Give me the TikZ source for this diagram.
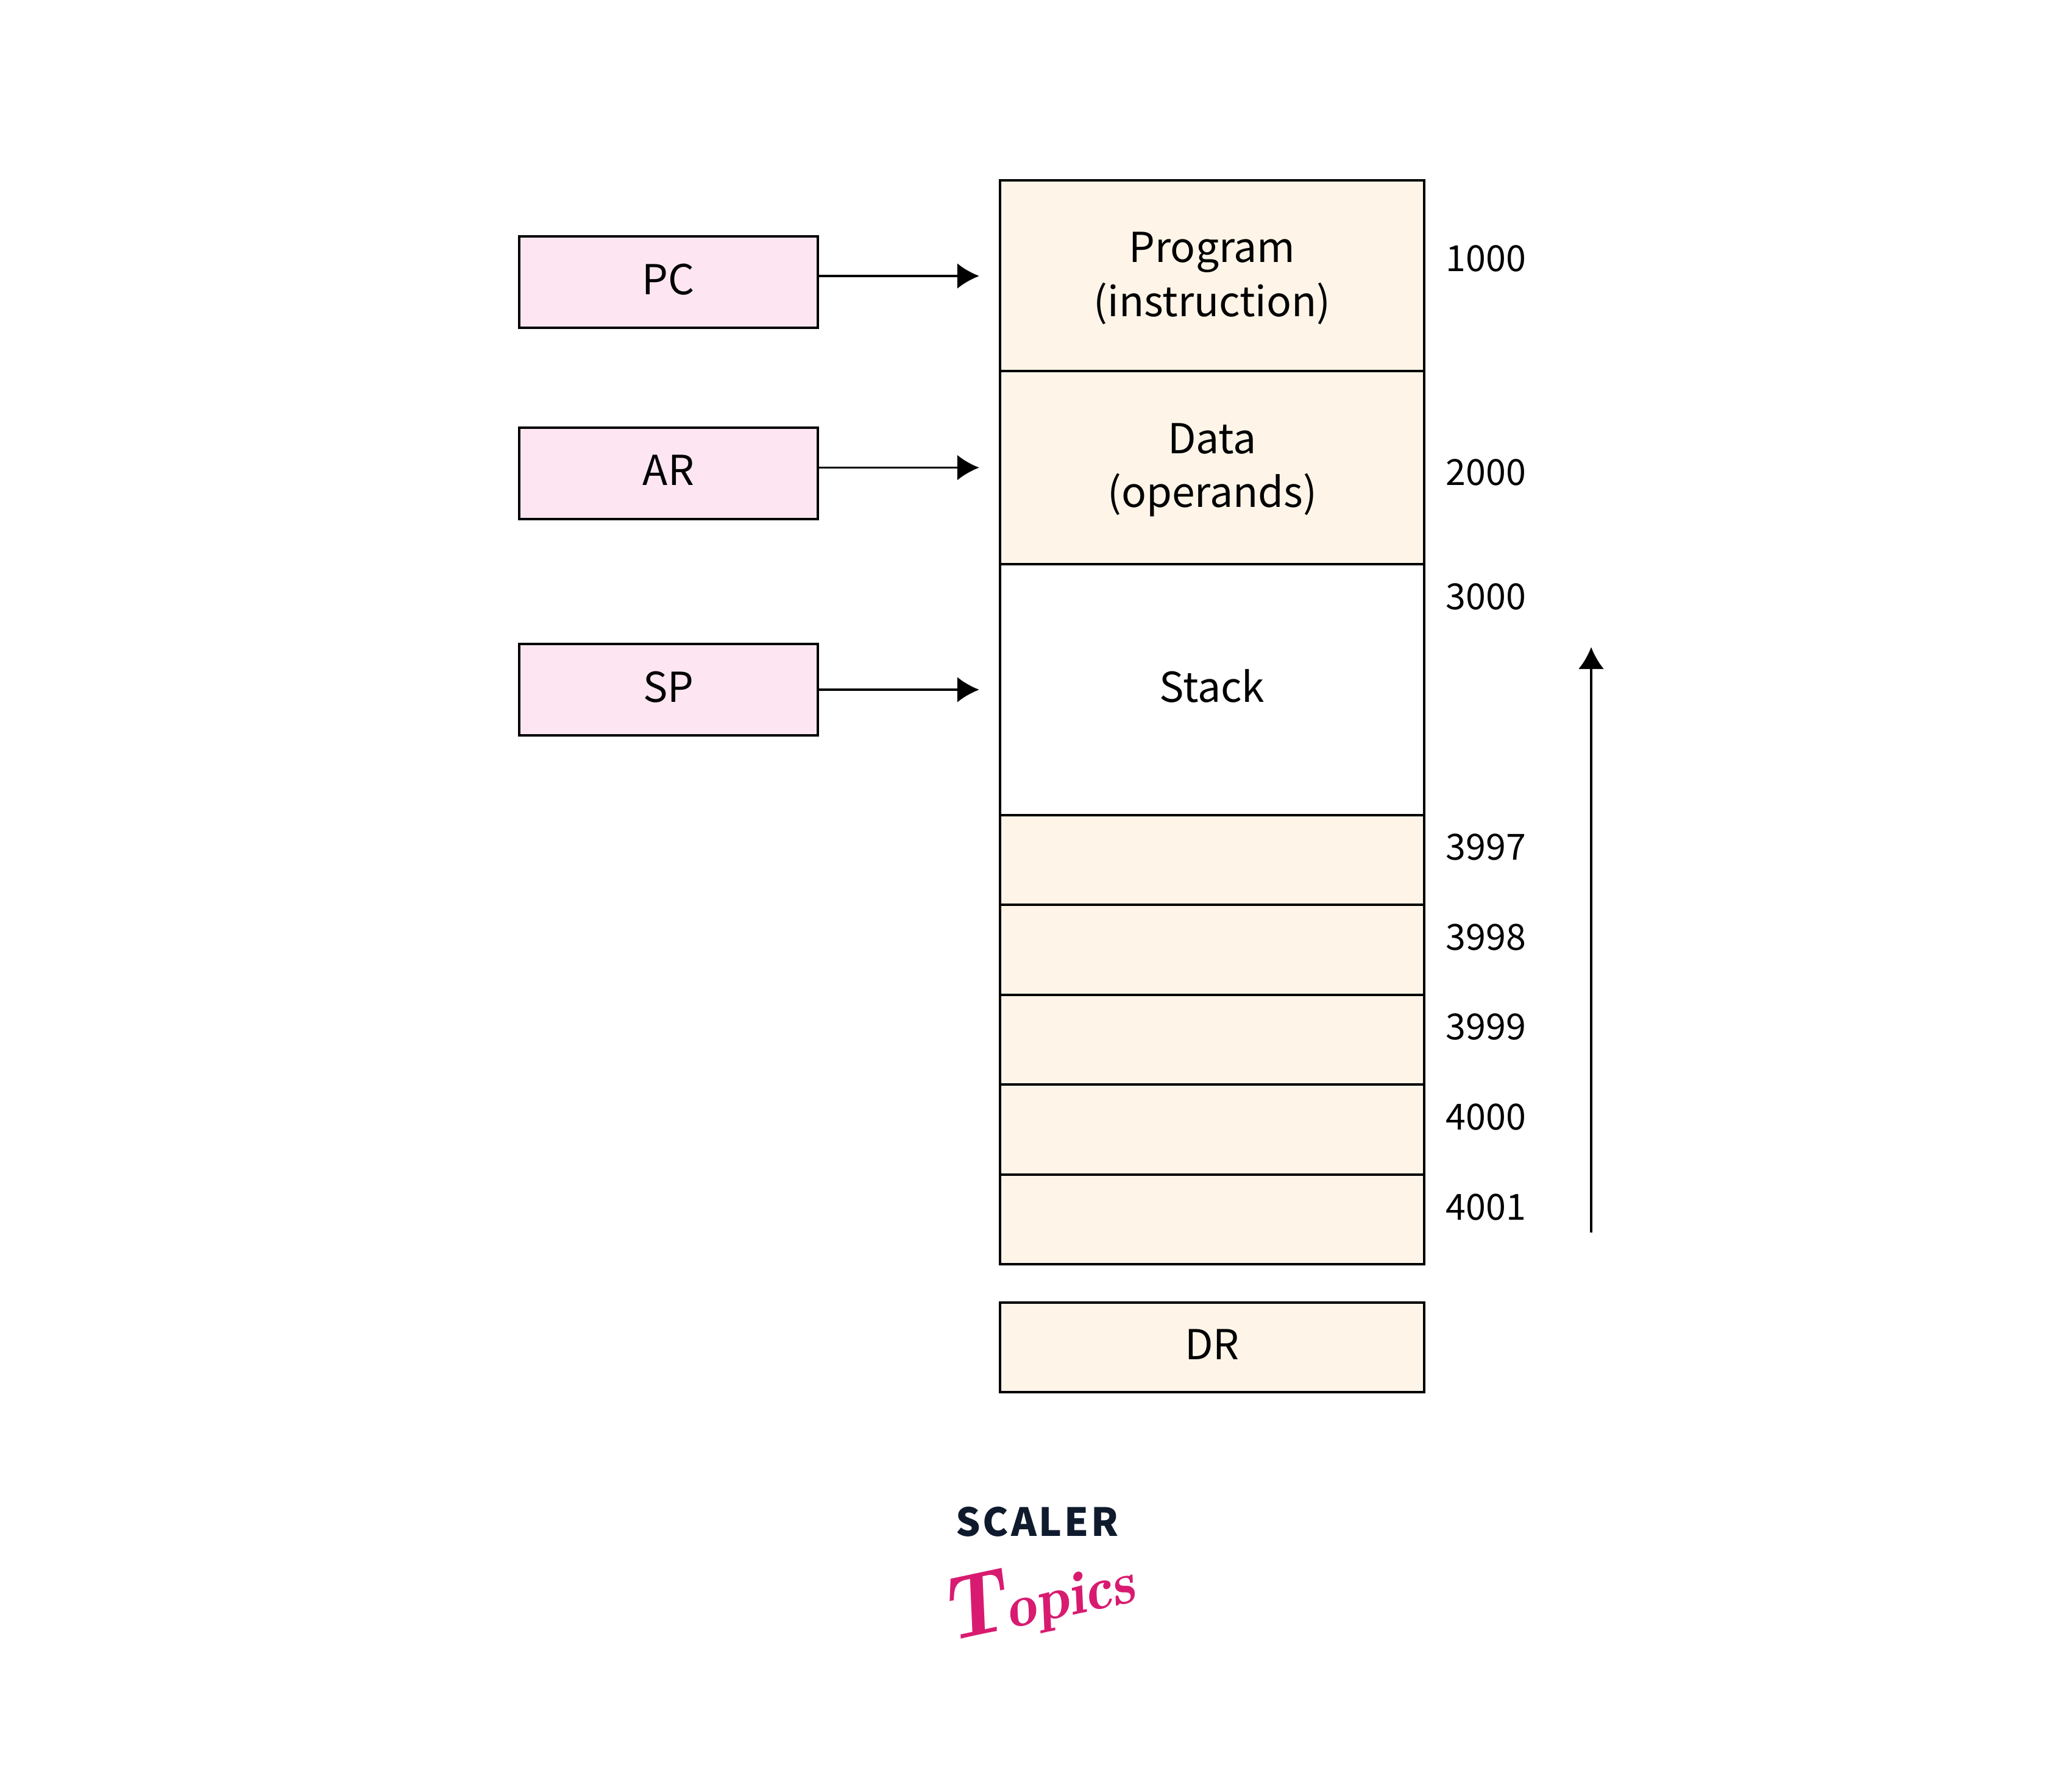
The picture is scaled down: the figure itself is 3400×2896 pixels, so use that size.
\documentclass[tikz,border=0pt]{standalone}
\usepackage{fontspec}
\usetikzlibrary{arrows.meta}
\setmainfont{Noto Sans CJK SC}
\newfontfamily\logofont[LetterSpace=6]{Noto Sans CJK SC}
\definecolor{cellfill}{HTML}{FEF5E8}
\definecolor{regfill}{HTML}{FDE6F1}
\definecolor{logodark}{HTML}{0F1B2D}
\definecolor{logopink}{HTML}{D81B70}
\newcommand{\toproom}{\rule{0pt}{16.4pt}}
\tikzset{
  regbox/.style={draw,line width=1.1pt,fill=regfill,minimum width=4.9cm,minimum height=1.5cm,inner sep=0pt,text depth=2.8pt,font=\fontsize{19.25}{25.2}\selectfont},
  cell/.style={draw,line width=1.1pt,fill=cellfill,minimum width=6.96cm,inner sep=0pt,align=center,font=\fontsize{19.25}{25.2}\selectfont},
  addr/.style={anchor=west,inner sep=0pt,font=\fontsize{16.8}{20}\selectfont},
  regarrow/.style={line width=1.1pt,-{Latex[length=0.36cm,width=0.42cm]}}
}
\begin{document}
\begin{tikzpicture}[x=0.01cm,y=-0.01cm]
\useasboundingbox (0,0) rectangle (3400,2896);
%Memory column, top to bottom
\node[cell,minimum height=3.14cm](prog) at (1989,453){\toproom Program\\(instruction)};
\node[cell,minimum height=3.17cm](data) at (1989,767.5){\toproom Data\\(operands)};
\node[cell,fill=white,text depth=3.4pt,minimum height=4.12cm](stack) at (1989,1132){Stack};
\node[cell,minimum height=1.475cm](c3997) at (1989,1411.5){};
\node[cell,minimum height=1.475cm](c3998) at (1989,1559){};
\node[cell,minimum height=1.475cm](c3999) at (1989,1706.5){};
\node[cell,minimum height=1.475cm](c4000) at (1989,1854){};
\node[cell,minimum height=1.475cm](c4001) at (1989,2001.5){};
\node[cell,text depth=2.8pt,minimum height=1.475cm](dr) at (1989,2211.5){DR};
%Registers on the left
\node[regbox](pc) at (1097,463){PC};
\node[regbox](ar) at (1097,777){AR};
\node[regbox](sp) at (1097,1132){SP};
%Addresses beside the column
\node[addr](a1000) at (2372,424){1000};
\node[addr](a2000) at (2372,775){2000};
\node[addr](a3000) at (2372,979){3000};
\node[addr](a3997) at (2372,1390){3997};
\node[addr](a3998) at (2372,1538){3998};
\node[addr](a3999) at (2372,1685){3999};
\node[addr](a4000) at (2372,1833){4000};
\node[addr](a4001) at (2372,1981){4001};
%Each register points at the middle of its cell
\draw[regarrow,shorten >=0.32cm] (pc.east |- prog.west) -- (prog.west);
\draw[regarrow,shorten >=0.32cm] (ar.east |- data.west) -- (data.west);
\draw[regarrow,shorten >=0.32cm] (sp.east |- stack.west) -- (stack.west);
%Growth direction of the stack
\coordinate (growfoot) at (2611,2023);
\coordinate (growhead) at (2611,1062);
\draw[regarrow] (growfoot) -- (growhead);
%Logo
\node[inner sep=0pt,text=logodark,font=\logofont\bfseries\fontsize{18.1}{20}\selectfont](scaler) at (1702,2498){SCALER};
\node[inner sep=0pt,text=logopink,rotate=12,font=\fontfamily{lmr}\bfseries\itshape\fontsize{28}{34}\selectfont](topics) at (1703,2622){{\fontsize{42}{34}\selectfont T}opics};
\end{tikzpicture}
\end{document}
